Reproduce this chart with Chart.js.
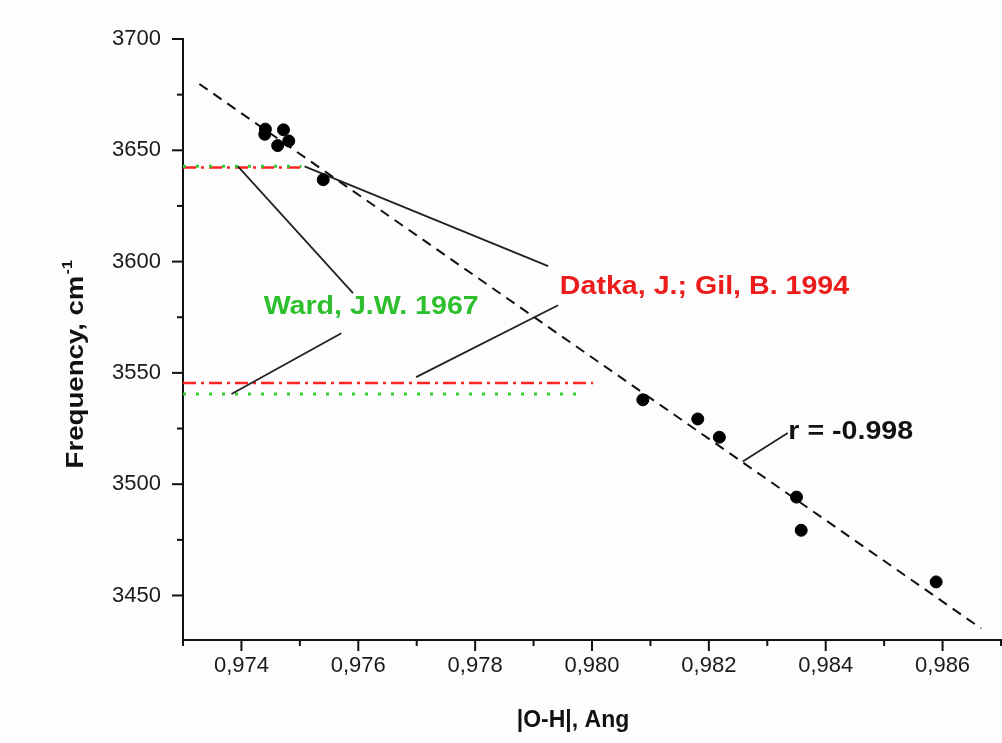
<!DOCTYPE html>
<html>
<head>
<meta charset="utf-8">
<script src="https://cdn.jsdelivr.net/npm/chart.js@4.4.1/dist/chart.umd.min.js"></script>
<style>
  html, body { margin: 0; padding: 0; background: #fdfdfd; }
  #wrap { width: 1002px; height: 743px; }
</style>
</head>
<body>
<div id="wrap"><canvas id="ohChart"></canvas></div>
<script>
// measured points: |O-H| length (Ang) vs OH stretching frequency (cm-1)
const ohLength = [0.97441, 0.97440, 0.97472, 0.97481, 0.97462, 0.97540, 0.98087, 0.98181, 0.98218, 0.98350, 0.98358, 0.98589];
const frequency = [3659.5, 3657.2, 3659.2, 3654.2, 3652.1, 3636.8, 3537.9, 3529.3, 3521.1, 3494.2, 3479.3, 3456.1];

// linear fit line (end points)
const fitX = [0.97328, 0.98666];
const fitY = [3679.8, 3435.2];

// literature reference levels
const wardLevels = [3642.8, 3540.5];
const wardEnds = [0.97503, 0.97987];
const datkaLevels = [3642.3, 3545.5];
const datkaEnds = [0.97503, 0.98002];

// leader lines from labels [x1, y1, x2, y2]
const leaders = [
    [0.97394, 3642.8, 0.97591, 3585.8],
    [0.97383, 3540.5, 0.97571, 3567.8],
    [0.97508, 3642.8, 0.97925, 3598.0],
    [0.97699, 3548.1, 0.97942, 3580.4],
    [0.98258, 3510.2, 0.98335, 3523.0]
];

// annotation labels [text, x, y(baseline), colour]
const notes = [
    ['Ward, J.W. 1967', 0.97438, 3576.3, '#2dbf2d'],
    ['Datka, J.; Gil, B. 1994', 0.97945, 3585.3, '#ec1c1c'],
    ['r = -0.998', 0.98336, 3520.3, '#111111']
];

// axis ticks
const xTickValues = [0.973, 0.974, 0.975, 0.976, 0.977, 0.978, 0.979, 0.980, 0.981, 0.982, 0.983, 0.984, 0.985, 0.986, 0.987];
const xTickLabels = ['', '0,974', '', '0,976', '', '0,978', '', '0,980', '', '0,982', '', '0,984', '', '0,986', ''];
const yTickValues = [3450, 3475, 3500, 3525, 3550, 3575, 3600, 3625, 3650, 3675, 3700];
const yTickLabels = ['3450', '', '3500', '', '3550', '', '3600', '', '3650', '', '3700'];

const FONT = '"Liberation Sans", Arial, sans-serif';

function seg(xs, ys) {
    return xs.map((x, i) => ({ x: x, y: ys[i] }));
}

const datasets = [];
datasets.push({
    data: seg(ohLength, frequency),
    backgroundColor: '#000',
    borderColor: '#000',
    pointRadius: 6,
    order: 0
});
datasets.push({
    data: seg(fitX, fitY),
    showLine: true,
    borderColor: '#111',
    borderWidth: 2,
    borderDash: [10, 7],
    pointRadius: 0,
    order: 3
});
datkaLevels.forEach((lvl, i) => {
    datasets.push({
        data: seg([0.973, datkaEnds[i]], [lvl, lvl]),
        showLine: true,
        borderColor: '#ff2222',
        borderWidth: 2.5,
        borderDash: [13, 5, 3, 5],
        pointRadius: 0,
        order: 5
    });
});
wardLevels.forEach((lvl, i) => {
    datasets.push({
        data: seg([0.973, wardEnds[i]], [lvl, lvl]),
        showLine: true,
        borderColor: '#33cc33',
        borderWidth: 3,
        borderDash: [3, 10],
        pointRadius: 0,
        order: 4
    });
});
leaders.forEach(l => {
    datasets.push({
        data: seg([l[0], l[2]], [l[1], l[3]]),
        showLine: true,
        borderColor: '#222',
        borderWidth: 1.8,
        pointRadius: 0,
        order: 2
    });
});

// tick marks, axis titles and text labels
const decor = {
    id: 'decor',
    afterDraw(chart) {
        const ctx = chart.ctx;
        const xs = chart.scales.x, ys = chart.scales.y;
        const area = chart.chartArea;
        ctx.save();
        ctx.strokeStyle = '#111';
        ctx.lineWidth = 2;
        xTickValues.forEach((v, i) => {
            const px = xs.getPixelForValue(v);
            const len = xTickLabels[i] ? 11 : 6;
            ctx.beginPath();
            ctx.moveTo(px, area.bottom);
            ctx.lineTo(px, area.bottom + len);
            ctx.stroke();
        });
        yTickValues.forEach((v, i) => {
            const py = ys.getPixelForValue(v);
            const len = yTickLabels[i] ? 11 : 6;
            ctx.beginPath();
            ctx.moveTo(area.left, py);
            ctx.lineTo(area.left - len, py);
            ctx.stroke();
        });

        // x title
        ctx.fillStyle = '#111';
        ctx.font = 'bold 23px ' + FONT;
        ctx.textAlign = 'center';
        ctx.textBaseline = 'alphabetic';
        ctx.fillText('|O-H|, Ang', 573, 727);

        // y title with superscript
        ctx.save();
        ctx.translate(83, 372);
        ctx.rotate(-Math.PI / 2);
        ctx.scale(1.15, 1);
        ctx.font = 'bold 24px ' + FONT;
        const main = 'Frequency, cm';
        const w = ctx.measureText(main).width;
        ctx.textAlign = 'left';
        ctx.fillText(main, -w / 2, 0);
        ctx.font = 'bold 14px ' + FONT;
        ctx.fillText('-1', w / 2 + 1, -11);
        ctx.restore();

        // annotations
        notes.forEach(n => {
            ctx.save();
            ctx.translate(xs.getPixelForValue(n[1]), ys.getPixelForValue(n[2]));
            ctx.scale(1.1, 1);
            ctx.font = 'bold 26px ' + FONT;
            ctx.fillStyle = n[3];
            ctx.textAlign = 'left';
            ctx.fillText(n[0], 0, 0);
            ctx.restore();
        });
        ctx.restore();
    }
};

new Chart(document.getElementById('ohChart'), {
    type: 'scatter',
    data: { datasets: datasets },
    options: {
        responsive: true,
        maintainAspectRatio: false,
        animation: false,
        layout: { autoPadding: false, padding: { top: 39, right: 1, bottom: 0, left: 0 } },
        plugins: {
            legend: { display: false },
            tooltip: { enabled: false }
        },
        scales: {
            x: {
                type: 'linear',
                min: 0.973,
                max: 0.987,
                afterBuildTicks: scale => { scale.ticks = xTickValues.map(v => ({ value: v })); },
                afterFit: scale => {
                    scale.height = 103;
                    scale.paddingLeft = 0;
                    scale.paddingRight = 0;
                },
                grid: { display: false, drawTicks: false },
                border: { display: true, color: '#111', width: 2 },
                ticks: {
                    autoSkip: false,
                    maxRotation: 0,
                    padding: 13,
                    color: '#1a1a1a',
                    font: { family: FONT, size: 22 },
                    callback: (v, i) => xTickLabels[i]
                }
            },
            y: {
                type: 'linear',
                min: 3430,
                max: 3700,
                afterBuildTicks: scale => { scale.ticks = yTickValues.map(v => ({ value: v })); },
                afterFit: scale => { scale.width = 183; },
                grid: { display: false, drawTicks: false },
                border: { display: true, color: '#111', width: 2 },
                ticks: {
                    autoSkip: false,
                    padding: 22,
                    color: '#1a1a1a',
                    font: { family: FONT, size: 22 },
                    callback: (v, i) => yTickLabels[i]
                }
            }
        }
    },
    plugins: [decor]
});
</script>
</body>
</html>
